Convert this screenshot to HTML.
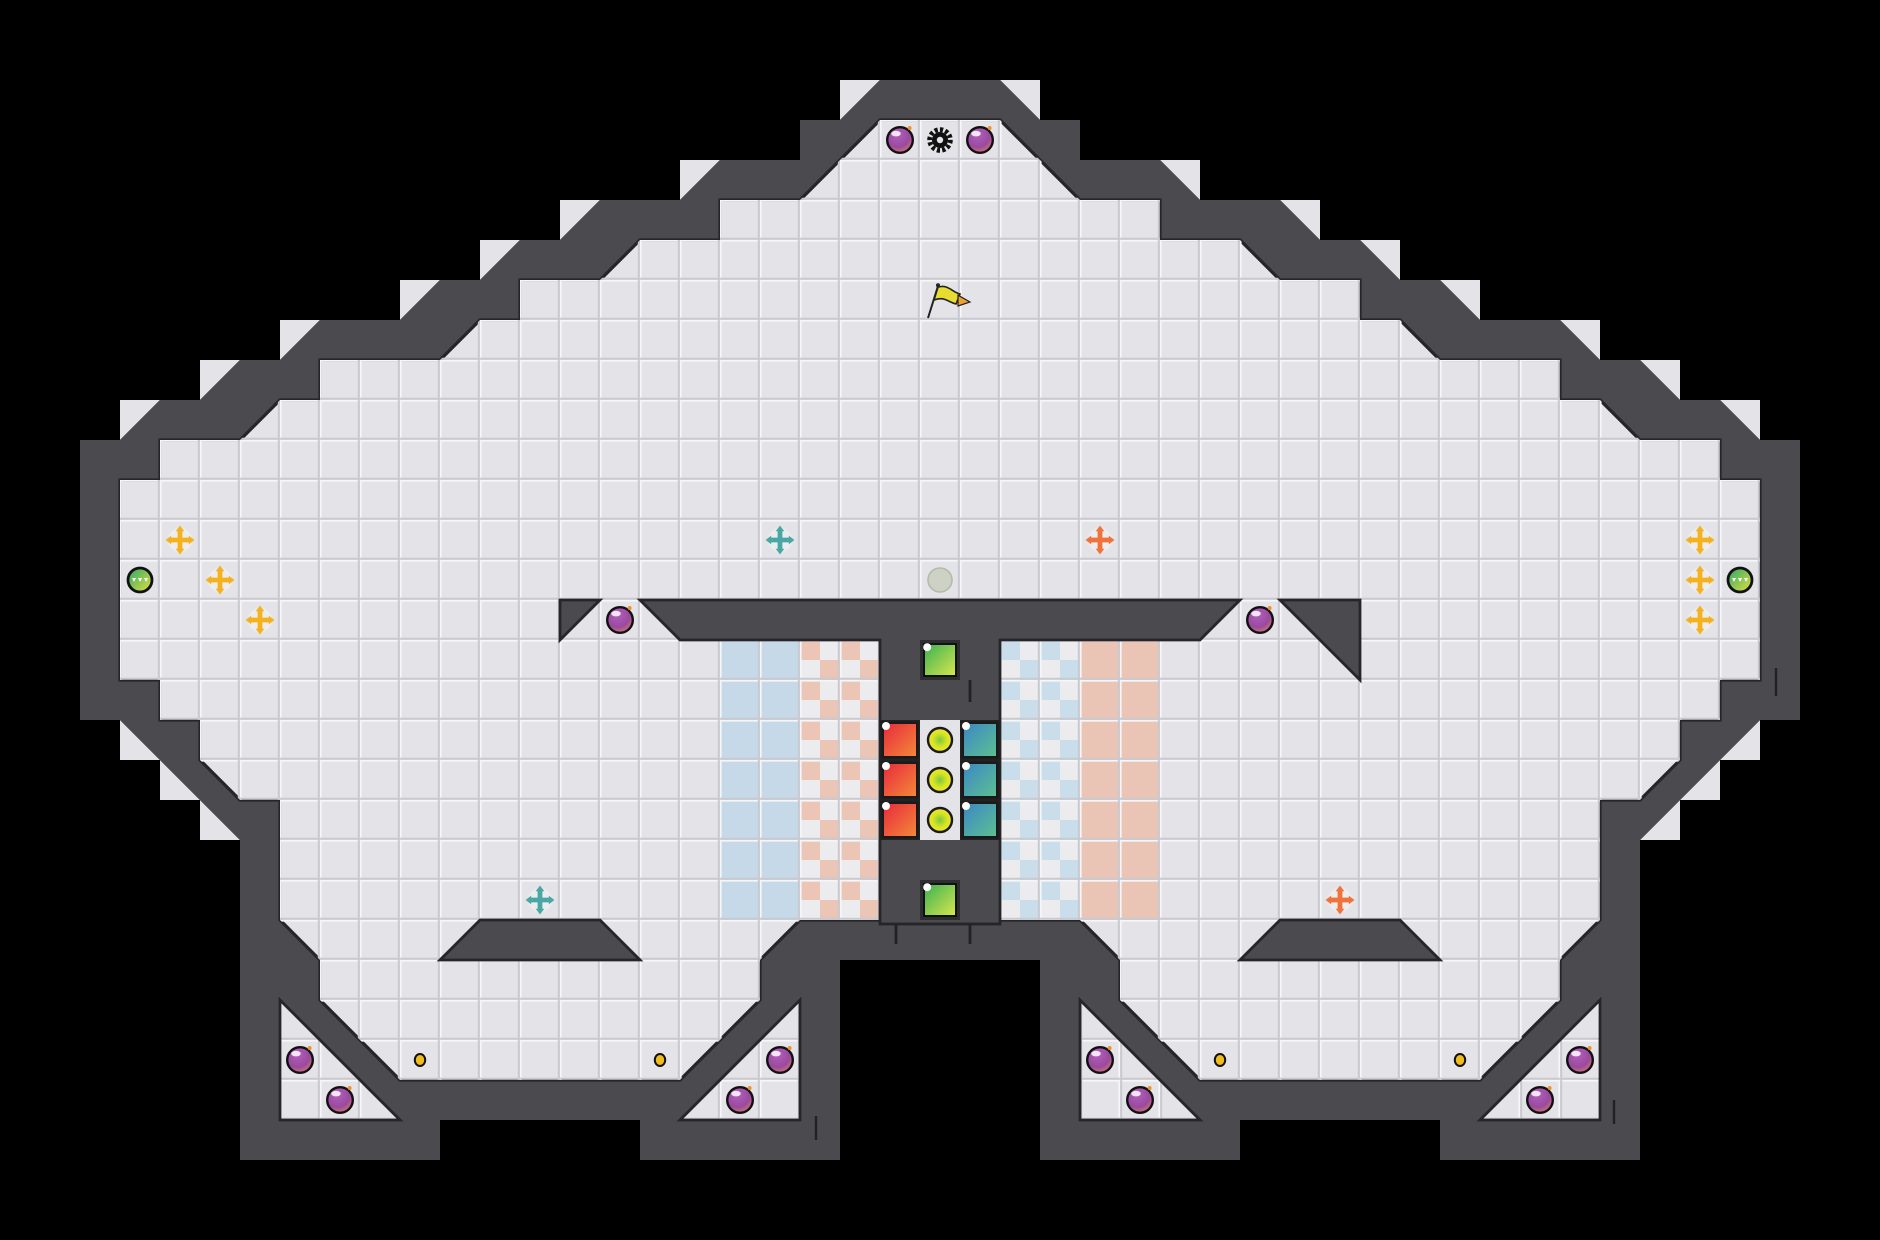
<!DOCTYPE html>
<html><head><meta charset="utf-8"><style>
html,body{margin:0;padding:0;background:#000;width:1880px;height:1240px;overflow:hidden}
svg{display:block}
</style></head><body>
<svg width="1880" height="1240" viewBox="0 0 47 31" xmlns="http://www.w3.org/2000/svg">
<defs>
<pattern id="lines" patternUnits="userSpaceOnUse" width="1" height="1">
<path d="M0,0.02H1M0.02,0V1" stroke="#f6f6f8" stroke-width="0.04" fill="none"/>
<path d="M0,0.97H1M0.97,0V1" stroke="#c9c9d0" stroke-width="0.05" fill="none"/>
</pattern>
<pattern id="chkO" patternUnits="userSpaceOnUse" width="1" height="1">
<rect width="1" height="1" fill="#ececee"/><rect width="0.5" height="0.5" fill="#ebc6b6"/><rect x="0.5" y="0.5" width="0.5" height="0.5" fill="#ebc6b6"/>
</pattern>
<pattern id="chkB" patternUnits="userSpaceOnUse" width="1" height="1">
<rect width="1" height="1" fill="#ececee"/><rect width="0.5" height="0.5" fill="#c9ddeb"/><rect x="0.5" y="0.5" width="0.5" height="0.5" fill="#c9ddeb"/>
</pattern>
<radialGradient id="bombG" cx="0.4" cy="0.3" r="0.8">
<stop offset="0" stop-color="#b25fc0"/><stop offset="0.6" stop-color="#9a4a9c"/><stop offset="1" stop-color="#e0836a"/>
</radialGradient>
<linearGradient id="redG" x1="0" y1="0" x2="1" y2="1"><stop offset="0" stop-color="#e8283c"/><stop offset="1" stop-color="#f48a3a"/></linearGradient>
<linearGradient id="bluG" x1="0" y1="0" x2="1" y2="1"><stop offset="0" stop-color="#3a86c8"/><stop offset="1" stop-color="#5ec28e"/></linearGradient>
<linearGradient id="grnG" x1="0" y1="0" x2="1" y2="1"><stop offset="0" stop-color="#3ab050"/><stop offset="1" stop-color="#d8e850"/></linearGradient>
<radialGradient id="yelG" cx="0.5" cy="0.5" r="0.5"><stop offset="0" stop-color="#7cc838"/><stop offset="0.6" stop-color="#d8e428"/><stop offset="1" stop-color="#eee820"/></radialGradient>
<linearGradient id="ballG" x1="0" y1="0" x2="1" y2="1"><stop offset="0" stop-color="#2aa868"/><stop offset="1" stop-color="#e6e040"/></linearGradient>
<g id="bomb">
<circle cx="0" cy="0" r="0.32" fill="url(#bombG)" stroke="#111" stroke-width="0.06"/>
<ellipse cx="-0.1" cy="-0.16" rx="0.12" ry="0.07" fill="#fff" opacity="0.85"/>
<circle cx="0.24" cy="-0.3" r="0.05" fill="#f0902a"/>
</g>
<g id="cross">
<circle r="0.3" fill="#fff" opacity="0.35"/>
<path d="M-0.26,0H0.26M0,-0.26V0.26" stroke="currentColor" stroke-width="0.12"/>
<path d="M0,-0.36L0.11,-0.22H-0.11ZM0,0.36L0.11,0.22H-0.11ZM-0.36,0L-0.22,0.11V-0.11ZM0.36,0L0.22,0.11V-0.11Z" fill="currentColor"/>
</g>
<g id="lt">
<path d="M3,10h1l-1,1zM5,9h1l-1,1zM7,8h1l-1,1zM10,7h1l-1,1zM12,6h1l-1,1zM14,5h1l-1,1zM17,4h1l-1,1zM21,2h1l-1,1z" fill="#e3e3e8"/>
<path d="M3,18v1h1zM4,19v1h1zM5,20v1h1z" fill="#e3e3e8"/>
</g>
<g id="pk">
<path d="M7,25V28H10Z M17,28H20V25Z" fill="#e3e3e8"/>
<path d="M7,25V28H10Z M17,28H20V25Z" fill="url(#lines)" stroke="#26262a" stroke-width="0.07"/>
</g>
<g id="trap">
<path d="M12,23H15L16,24H11Z" fill="#4a4a4f" stroke="#26262a" stroke-width="0.07"/>
</g>
</defs>

<rect width="47" height="31" fill="#000"/>
<use href="#lt"/>
<use href="#lt" transform="translate(47,0) scale(-1,1)"/>

<!-- wall shell -->
<polygon fill="#4a4a4f" points="22,2 21,3 20,3 20,4 18,4 17,5 15,5 14,6 13,6 12,7 11,7 10,8 8,8 7,9 6,9 5,10 4,10 3,11 2,11 2,18 3,18 6,21 6,29 11,29 11,28 16,28 16,29 21,29 21,24 26,24 26,29 31,29 31,28 36,28 36,29 41,29 41,21 44,18 45,18 45,11 44,11 43,10 42,10 41,9 40,9 39,8 37,8 36,7 35,7 34,6 33,6 32,5 30,5 29,4 27,4 27,3 26,3 25,2"/>

<!-- floor -->
<polygon id="fl" fill="#e3e3e8" stroke="#26262a" stroke-width="0.08" points="22,3 20,5 18,5 18,6 16,6 15,7 13,7 13,8 12,8 11,9 8,9 8,10 7,10 6,11 4,11 4,12 3,12 3,17 4,17 4,18 5,18 5,19 6,20 7,20 7,23 8,24 8,25 10,27 17,27 19,25 19,24 20,23 27,23 28,24 28,25 30,27 37,27 39,25 39,24 40,23 40,20 41,20 42,19 42,18 43,18 43,17 44,17 44,12 43,12 43,11 41,11 40,10 39,10 39,9 36,9 35,8 34,8 34,7 32,7 31,6 29,6 29,5 27,5 25,3"/>

<!-- colored strips -->
<rect x="18" y="16" width="2" height="7" fill="#c6d9e9"/>
<rect x="20" y="16" width="2" height="7" fill="url(#chkO)"/>
<rect x="25" y="16" width="2" height="7" fill="url(#chkB)"/>
<rect x="27" y="16" width="2" height="7" fill="#eac5b5"/>

<polygon fill="url(#lines)" points="22,3 20,5 18,5 18,6 16,6 15,7 13,7 13,8 12,8 11,9 8,9 8,10 7,10 6,11 4,11 4,12 3,12 3,17 4,17 4,18 5,18 5,19 6,20 7,20 7,23 8,24 8,25 10,27 17,27 19,25 19,24 20,23 27,23 28,24 28,25 30,27 37,27 39,25 39,24 40,23 40,20 41,20 42,19 42,18 43,18 43,17 44,17 44,12 43,12 43,11 41,11 40,10 39,10 39,9 36,9 35,8 34,8 34,7 32,7 31,6 29,6 29,5 27,5 25,3"/>

<use href="#pk"/>
<use href="#pk" transform="translate(47,0) scale(-1,1)"/>
<use href="#trap"/>
<use href="#trap" transform="translate(47,0) scale(-1,1)"/>

<!-- T structure -->
<polygon fill="#4a4a4f" stroke="#26262a" stroke-width="0.07" points="16,15 31,15 30,16 25,16 25,23.1 22,23.1 22,16 17,16"/>
<polygon fill="#4a4a4f" stroke="#26262a" stroke-width="0.07" points="14,15 15,15 14,16"/>
<polygon fill="#4a4a4f" stroke="#26262a" stroke-width="0.07" points="32,15 34,15 34,17"/>

<!-- 3x3 block -->
<rect x="22" y="18" width="3" height="3" fill="#222"/>
<rect x="23" y="18" width="1" height="3" fill="#e3e3e8"/>
<g stroke="#1a1a1a" stroke-width="0.06">
<rect x="22.07" y="18.07" width="0.86" height="0.86" fill="url(#redG)"/>
<rect x="22.07" y="19.07" width="0.86" height="0.86" fill="url(#redG)"/>
<rect x="22.07" y="20.07" width="0.86" height="0.86" fill="url(#redG)"/>
<rect x="24.07" y="18.07" width="0.86" height="0.86" fill="url(#bluG)"/>
<rect x="24.07" y="19.07" width="0.86" height="0.86" fill="url(#bluG)"/>
<rect x="24.07" y="20.07" width="0.86" height="0.86" fill="url(#bluG)"/>
<circle cx="23.5" cy="18.5" r="0.3" fill="url(#yelG)"/>
<circle cx="23.5" cy="19.5" r="0.3" fill="url(#yelG)"/>
<circle cx="23.5" cy="20.5" r="0.3" fill="url(#yelG)"/>
</g>
<g fill="#fff">
<circle cx="22.15" cy="18.15" r="0.1"/><circle cx="22.15" cy="19.15" r="0.1"/><circle cx="22.15" cy="20.15" r="0.1"/>
<circle cx="24.15" cy="18.15" r="0.1"/><circle cx="24.15" cy="19.15" r="0.1"/><circle cx="24.15" cy="20.15" r="0.1"/>
</g>
<!-- green boxes -->
<g>
<rect x="23" y="16" width="1" height="1" fill="#2e2e32"/>
<rect x="23.1" y="16.1" width="0.8" height="0.8" fill="url(#grnG)" stroke="#111" stroke-width="0.05"/>
<circle cx="23.18" cy="16.18" r="0.1" fill="#fff"/>
<rect x="23" y="22" width="1" height="1" fill="#2e2e32"/>
<rect x="23.1" y="22.1" width="0.8" height="0.8" fill="url(#grnG)" stroke="#111" stroke-width="0.05"/>
<circle cx="23.18" cy="22.18" r="0.1" fill="#fff"/>
</g>
<g stroke="#222" stroke-width="0.07">
<path d="M24.25,17V17.55M22.4,23.1V23.6M24.25,23.1V23.6"/>
</g>

<!-- bombs -->
<use href="#bomb" x="22.5" y="3.5"/>
<use href="#bomb" x="24.5" y="3.5"/>
<use href="#bomb" x="15.5" y="15.5"/>
<use href="#bomb" x="31.5" y="15.5"/>
<use href="#bomb" x="7.5" y="26.5"/>
<use href="#bomb" x="8.5" y="27.5"/>
<use href="#bomb" x="19.5" y="26.5"/>
<use href="#bomb" x="18.5" y="27.5"/>
<use href="#bomb" x="27.5" y="26.5"/>
<use href="#bomb" x="28.5" y="27.5"/>
<use href="#bomb" x="39.5" y="26.5"/>
<use href="#bomb" x="38.5" y="27.5"/>

<!-- gear -->
<circle cx="23.5" cy="3.5" r="0.26" fill="none" stroke="#111" stroke-width="0.12" stroke-dasharray="0.08 0.055"/>
<circle cx="23.5" cy="3.5" r="0.2" fill="#111"/>
<circle cx="23.5" cy="3.5" r="0.08" fill="#e3e3e8"/>

<!-- flag -->
<path d="M23.2,7.95L23.45,7.15" stroke="#222" stroke-width="0.05"/>
<circle cx="23.45" cy="7.13" r="0.05" fill="#222"/>
<path d="M23.45,7.18C23.7,7.1 23.8,7.3 24,7.35L23.9,7.6C23.7,7.55 23.6,7.4 23.35,7.5Z" fill="#e8dc30" stroke="#222" stroke-width="0.04"/>
<path d="M23.95,7.38L24.25,7.55L23.95,7.65Z" fill="#f0a030" stroke="#222" stroke-width="0.03"/>

<!-- faint circle -->
<circle cx="23.5" cy="14.5" r="0.3" fill="#cdd3c4" stroke="#b4baa8" stroke-width="0.04"/>

<!-- coins -->
<g fill="#f2bb1c" stroke="#111" stroke-width="0.05">
<ellipse cx="10.5" cy="26.5" rx="0.13" ry="0.15"/>
<ellipse cx="16.5" cy="26.5" rx="0.13" ry="0.15"/>
<ellipse cx="30.5" cy="26.5" rx="0.13" ry="0.15"/>
<ellipse cx="36.5" cy="26.5" rx="0.13" ry="0.15"/>
</g>

<!-- crosses -->
<g style="color:#f5b21e">
<use href="#cross" x="4.5" y="13.5"/><use href="#cross" x="5.5" y="14.5"/><use href="#cross" x="6.5" y="15.5"/>
<use href="#cross" x="42.5" y="13.5"/><use href="#cross" x="42.5" y="14.5"/><use href="#cross" x="42.5" y="15.5"/>
</g>
<g style="color:#4aa8a4">
<use href="#cross" x="19.5" y="13.5"/><use href="#cross" x="13.5" y="22.5"/>
</g>
<g style="color:#f0743a">
<use href="#cross" x="27.5" y="13.5"/><use href="#cross" x="33.5" y="22.5"/>
</g>

<!-- green balls -->
<g>
<circle cx="3.5" cy="14.5" r="0.3" fill="url(#ballG)" stroke="#111" stroke-width="0.07"/>
<path d="M3.3,14.45h0.1l-0.05,0.1zM3.45,14.45h0.1l-0.05,0.1zM3.6,14.45h0.1l-0.05,0.1z" fill="#fff"/>
<circle cx="43.5" cy="14.5" r="0.3" fill="url(#ballG)" stroke="#111" stroke-width="0.07"/>
<path d="M43.3,14.45h0.1l-0.05,0.1zM43.45,14.45h0.1l-0.05,0.1zM43.6,14.45h0.1l-0.05,0.1z" fill="#fff"/>
</g>

<!-- small marks -->
<g stroke="#222" stroke-width="0.06">
<path d="M44.4,16.7V17.4M40.35,27.5V28.1M20.4,27.9V28.5"/>
</g>
</svg>
</body></html>
